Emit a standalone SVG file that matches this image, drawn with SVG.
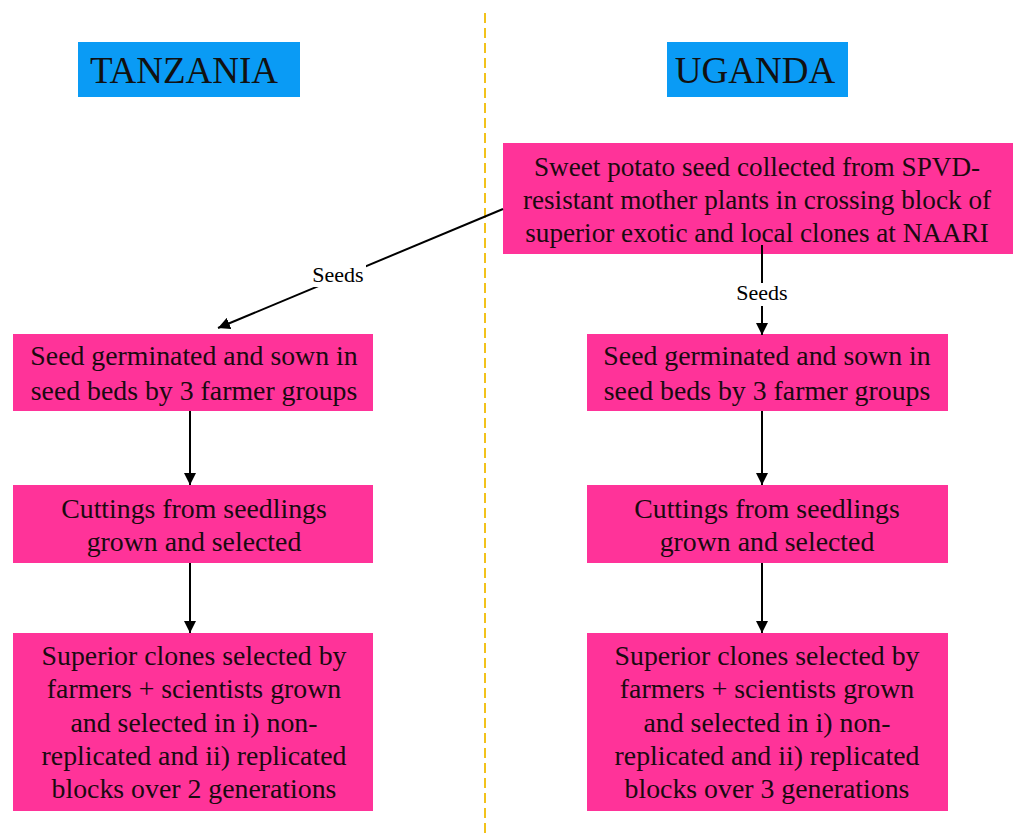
<svg xmlns="http://www.w3.org/2000/svg" width="1013" height="837" viewBox="0 0 1013 837">
<style>
.box{fill:#FF3399;}
.title{fill:#0A9BF5;}
.t{font-family:'Liberation Serif','Times New Roman',serif;font-size:27.8px;fill:#1a0a10;text-anchor:middle;}
.ts{font-family:'Liberation Serif','Times New Roman',serif;font-size:27.2px;fill:#1a0a10;text-anchor:middle;}
.tt{font-family:'Liberation Serif','Times New Roman',serif;font-size:37px;fill:#111;text-anchor:middle;}
.lbl{font-family:'Liberation Serif','Times New Roman',serif;font-size:22px;fill:#000;text-anchor:middle;}
.edge{stroke:#000;stroke-width:2;fill:none;}
</style>
<defs>
<marker id="ah" viewBox="0 0 10 10" refX="10" refY="5" markerWidth="12" markerHeight="12" markerUnits="userSpaceOnUse" orient="auto">
<path d="M0,0 L10,5 L0,10 z" fill="#000"/>
</marker>
</defs>
<rect width="1013" height="837" fill="#fff"/>
<line x1="485" y1="13" x2="485" y2="837" stroke="#F2C21B" stroke-width="2" stroke-dasharray="10,5"/>

<g id="tanzania">
<rect class="title" x="78" y="42" width="222" height="55"/>
<text class="tt" x="184" y="83">TANZANIA</text>
</g>
<g id="uganda">
<rect class="title" x="667" y="42" width="181" height="55"/>
<text class="tt" x="755" y="83">UGANDA</text>
</g>

<g id="source">
<rect class="box" x="503" y="143" width="510" height="111"/>
<text class="ts" x="757" y="176">Sweet potato seed collected from SPVD-</text>
<text class="ts" x="757" y="209">resistant mother plants in crossing block of</text>
<text class="ts" x="757" y="242">superior exotic and local clones at NAARI</text>
</g>

<g id="tz-seed">
<rect class="box" x="13" y="334" width="360" height="77"/>
<text class="t" x="194" y="365">Seed germinated and sown in</text>
<text class="t" x="194" y="400">seed beds by 3 farmer groups</text>
</g>
<g id="tz-cuttings">
<rect class="box" x="13" y="485" width="360" height="78"/>
<text class="t" x="194" y="518">Cuttings from seedlings</text>
<text class="t" x="194" y="551">grown and selected</text>
</g>
<g id="tz-superior">
<rect class="box" x="13" y="633" width="360" height="178"/>
<text class="t" x="194" y="665">Superior clones selected by</text>
<text class="t" x="194" y="698">farmers + scientists grown</text>
<text class="t" x="194" y="732">and selected in i) non-</text>
<text class="t" x="194" y="765">replicated and ii) replicated</text>
<text class="t" x="194" y="798">blocks over 2 generations</text>
</g>

<g id="ug-seed">
<rect class="box" x="587" y="334" width="361" height="77"/>
<text class="t" x="767" y="365">Seed germinated and sown in</text>
<text class="t" x="767" y="400">seed beds by 3 farmer groups</text>
</g>
<g id="ug-cuttings">
<rect class="box" x="587" y="485" width="361" height="78"/>
<text class="t" x="767" y="518">Cuttings from seedlings</text>
<text class="t" x="767" y="551">grown and selected</text>
</g>
<g id="ug-superior">
<rect class="box" x="587" y="633" width="361" height="178"/>
<text class="t" x="767" y="665">Superior clones selected by</text>
<text class="t" x="767" y="698">farmers + scientists grown</text>
<text class="t" x="767" y="732">and selected in i) non-</text>
<text class="t" x="767" y="765">replicated and ii) replicated</text>
<text class="t" x="767" y="798">blocks over 3 generations</text>
</g>

<g id="connectors">
<line class="edge" x1="503" y1="209" x2="218" y2="328" marker-end="url(#ah)"/>
<rect x="311" y="263" width="55" height="24" fill="#fff"/>
<text class="lbl" x="338" y="282">Seeds</text>
<line class="edge" x1="762" y1="245" x2="762" y2="335" marker-end="url(#ah)"/>
<rect x="734" y="283" width="56" height="23" fill="#fff"/>
<text class="lbl" x="762" y="300">Seeds</text>
<line class="edge" x1="190" y1="411" x2="190" y2="485" marker-end="url(#ah)"/>
<line class="edge" x1="190" y1="563" x2="190" y2="633" marker-end="url(#ah)"/>
<line class="edge" x1="762" y1="411" x2="762" y2="485" marker-end="url(#ah)"/>
<line class="edge" x1="762" y1="563" x2="762" y2="633" marker-end="url(#ah)"/>
</g>
</svg>
